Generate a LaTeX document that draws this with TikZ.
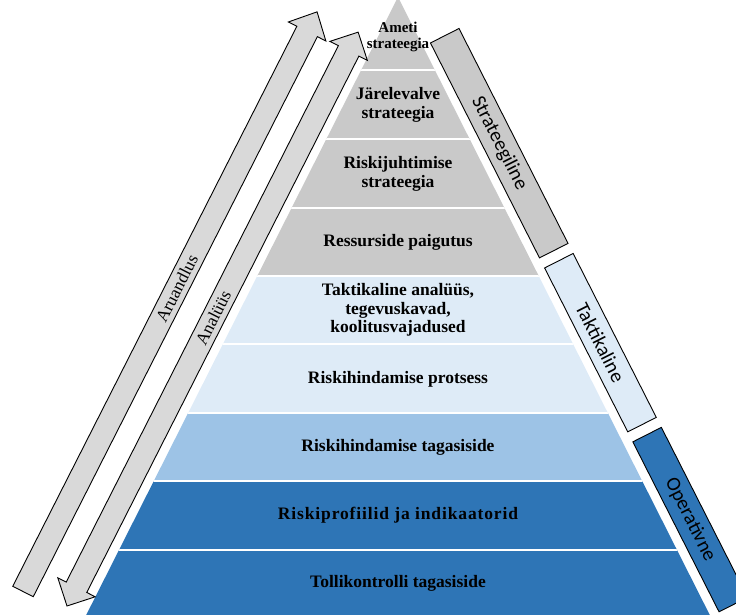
\documentclass[tikz,border=0pt]{standalone}
\usepackage{fontspec}
\setmainfont{Liberation Serif}
\newfontfamily\calib{Carlito}
\usetikzlibrary{calc}
\definecolor{bandgray}{RGB}{201,201,201}
\definecolor{arrgray}{RGB}{217,217,217}
\definecolor{lblue}{RGB}{222,235,247}
\definecolor{mblue}{RGB}{157,195,230}
\definecolor{dblue}{RGB}{46,117,182}
\begin{document}
\begin{tikzpicture}[x=1pt,y=-1pt,
  bandtext/.style={font=\fontsize{17.5}{18.5}\selectfont\bfseries, align=center, text=black, inner sep=0pt},
  sidetext/.style={font=\calib\fontsize{20}{22}\selectfont, inner sep=0pt, rotate=-63.1},
  arrtext/.style={font=\fontsize{17.5}{19}\selectfont, inner sep=0pt, rotate=63.1},
  boxstyle/.style={draw=black, line width=0.9pt, line join=miter},
  arrowstyle/.style={draw=black, line width=0.9pt, fill=arrgray, line join=miter}
]
\useasboundingbox (0,0) rectangle (736,615);

% pyramid bands
\begin{scope}
  \clip (398,-3) -- (86.2,615) -- (709.8,615) -- cycle;
  \fill[bandgray] (0,-5) rectangle (736,276);
  \fill[lblue] (0,276) rectangle (736,413);
  \fill[mblue] (0,413) rectangle (736,481);
  \fill[dblue] (0,481) rectangle (736,615);
  \foreach \yy in {70,139,208,276,344,413,481,550}
    \draw[white, line width=2pt] (0,\yy) -- (736,\yy);
\end{scope}

% band texts
\node[bandtext, font=\fontsize{15}{16.5}\selectfont\bfseries] (ameti) at (398,37) {Ameti\\strateegia};
\node[bandtext] (jarel) at (398,105) {Järelevalve\\strateegia};
\node[bandtext] (riskij) at (398,174) {Riskijuhtimise\\strateegia};
\node[bandtext] (ress) at (398,242) {Ressurside paigutus};
\node[bandtext] (takt) at (398,310) {Taktikaline analüüs,\\tegevuskavad,\\koolitusvajadused};
\node[bandtext] (protsess) at (398,379) {Riskihindamise protsess};
\node[bandtext] (tagasi) at (398,447) {Riskihindamise tagasiside};
\node[bandtext, font=\fontsize{17.5}{18.5}\selectfont\bfseries\addfontfeature{LetterSpace=5}] (profiil) at (398,515) {Riskiprofiilid ja indikaatorid};
\node[bandtext] (tolli) at (398,583) {Tollikontrolli tagasiside};

% right side boxes
\begin{scope}[shift={(398,0)}, rotate=-63.1]
  \draw[boxstyle, fill=bandgray] (53,-9.5) rectangle (294,-41.5);
  \node[sidetext] (strat) at (173.5,-25.5) {Strateegiline};
  \draw[boxstyle, fill=lblue] (305.3,-9.5) rectangle (489.1,-41.5);
  \node[sidetext] (taktl) at (397.2,-25.5) {Taktikaline};
  \draw[boxstyle, fill=dblue] (500.3,-9.5) rectangle (690.9,-41.5);
  \node[sidetext] (oper) at (595.6,-25.5) {Operativne};
\end{scope}

% outer arrow (Aruandlus)
\begin{scope}[shift={(23,591.5)}, rotate=63.1]
  \draw[arrowstyle] (0,-11.5) -- (628,-11.5) -- (628,-21) -- (650,0) -- (628,21) -- (628,11.5) -- (0,11.5) -- cycle;
  \node[arrtext] (aru) at (340,0) {Aruandlus};
\end{scope}

% inner arrow (Analüüs)
\begin{scope}[shift={(67,606)}, rotate=63.1]
  \draw[arrowstyle] (0,0) -- (21,-21) -- (21,-11.5) -- (622.5,-11.5) -- (622.5,-21) -- (643.5,0) -- (622.5,21) -- (622.5,11.5) -- (21,11.5) -- (21,21) -- cycle;
  \node[arrtext] (ana) at (323,0) {Analüüs};
\end{scope}
\end{tikzpicture}
\end{document}
